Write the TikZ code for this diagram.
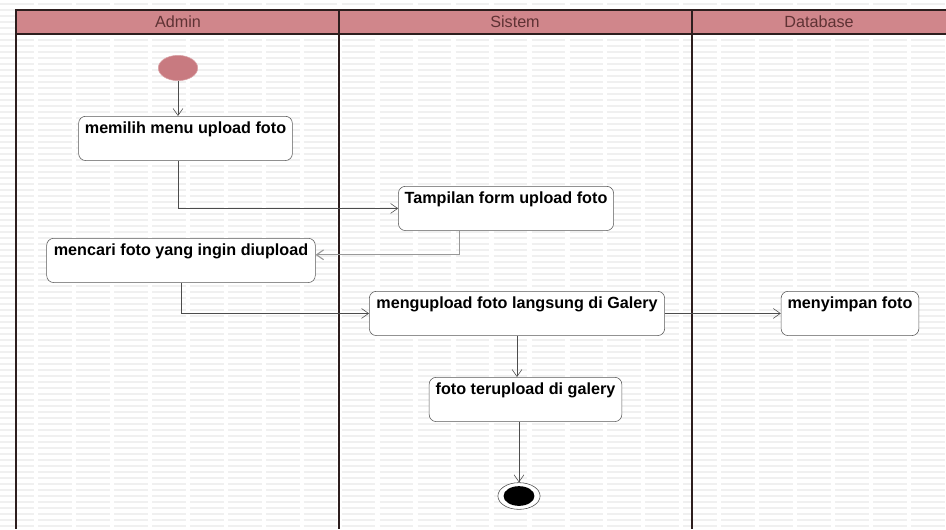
\documentclass[tikz,border=0pt]{standalone}
\usepackage{fontspec}
\setmainfont{Liberation Sans}
\usetikzlibrary{arrows.meta,shapes.geometric,positioning}
\definecolor{lanehead}{RGB}{208,134,139}
\definecolor{laneline}{RGB}{45,30,30}
\definecolor{headtext}{RGB}{95,50,52}
\definecolor{startpink}{RGB}{200,122,128}
\tikzset{
	act/.style = {
			draw=black!65, rounded corners=5pt, fill=white, thin,
			font=\fontsize{11.5}{13}\selectfont\bfseries,
			inner xsep=2pt, inner ysep=3pt,
			text height=9pt, text depth=16.5pt,
			anchor=north,
		},
	flow/.style = {draw=black!70, thin, -{Straight Barb[length=5pt,width=7pt]}},
	lane/.style = {draw=laneline, line width=1.8pt},
	lanetitle/.style = {font=\fontsize{11.5}{13}\selectfont, text=headtext},
}

\begin{document}
\begin{tikzpicture}[x=0.025cm,y=-0.025cm]
    \useasboundingbox (0,0) rectangle (946,529);
    % background texture
    \foreach \y in {4,10,...,526}
      \draw[black!6, line width=1.5pt, dash pattern=on 24pt off 3pt] (0,\y) -- (946,\y);

    % swimlanes
    \fill[lanehead] (16,10) rectangle (946,34);
    \draw[lane] (946,10) -- (16,10) -- (16,529);
    \draw[lane] (16,34) -- (946,34);
    \draw[lane] (339,10) -- (339,529);
    \draw[lane] (692,10) -- (692,529);
    \node[lanetitle] at (178,22) (admin) {Admin};
    \node[lanetitle] at (515,22) (sistem) {Sistem};
    \node[lanetitle] at (819,22) (database) {Database};

    % activities
    \node[ellipse, inner sep=0pt, fill=startpink, draw=startpink!70, minimum width=28pt, minimum height=18pt] at (178,68) (start) {};
    \node[act, minimum width=152pt] at (185.5,116) (memilih) {memilih menu upload foto};
    \node[act, minimum width=153pt] at (506,186) (tampil) {Tampilan form upload foto};
    \node[act, minimum width=191pt] at (181,238) (mencari) {mencari foto yang ingin diupload};
    \node[act, minimum width=210pt] at (517,291) (upload) {mengupload foto langsung di Galery};
    \node[act, minimum width=98pt] at (850,291) (simpan) {menyimpan foto};
    \node[act, minimum width=137pt] at (525.5,377) (terupload) {foto terupload di galery};
    \node[ellipse, inner sep=0pt, draw=black!70, fill=white, minimum width=30pt, minimum height=19pt] at (519,496) (end) {};
    \node[ellipse, inner sep=0pt, fill=black, minimum width=22pt, minimum height=14pt] at (end) (endfill) {};

    % flows
    \draw[flow] (start) -- (start |- memilih.north);
    \draw[flow] ([xshift=-5pt]memilih.south) |- (tampil.west);
    \draw[flow, draw=black!40, line width=0.8pt] ([xshift=-33pt]tampil.south) |- ([yshift=4pt]mencari.east);
    \draw[flow] (mencari.south) |- (upload.west);
    \draw[flow] (upload.east) -- (upload.east -| simpan.west);
    \draw[flow] (upload.south) -- (upload.south |- terupload.north);
    \draw[flow] (end |- terupload.south) -- (end);
\end{tikzpicture}
\end{document}
